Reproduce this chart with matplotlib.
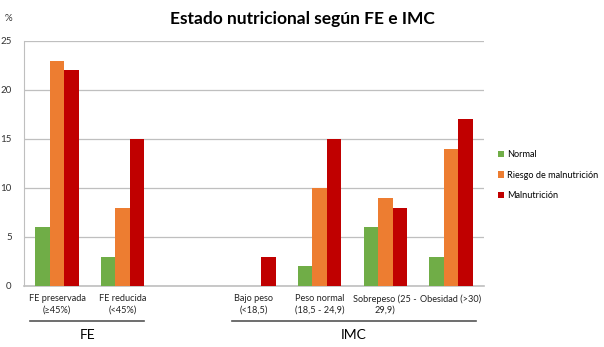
import numpy as np
import matplotlib.pyplot as plt

plt.rcParams['font.family'] = ['Lato', 'DejaVu Sans']

categorias = ['FE preservada\n(≥45%)', 'FE reducida\n(<45%)', '',
              'Bajo peso\n(<18,5)', 'Peso normal\n(18,5 - 24,9)',
              'Sobrepeso (25 -\n29,9)', 'Obesidad (>30)']
normal = [6, 3, 0, 0, 2, 6, 3]
riesgo = [23, 8, 0, 0, 10, 9, 14]
malnutricion = [22, 15, 0, 3, 15, 8, 17]
series = ['Normal', 'Riesgo de malnutrición', 'Malnutrición']
colores = ['#70AD47', '#ED7D31', '#C00000']

fig = plt.figure(figsize=(6.04, 3.47), dpi=100)
ax = fig.add_axes([0.04, 0.176, 0.761, 0.706])

x = np.arange(len(categorias))
w = 0.22
for i, (vals, name, c) in enumerate(zip([normal, riesgo, malnutricion], series, colores)):
    ax.bar(x + (i - 1) * w, vals, w, color=c, label=name, zorder=3)

ax.set_xlim(-0.5, len(categorias) - 0.5)
ax.set_ylim(0, 25)
ax.set_yticks(range(0, 26, 5))
ax.tick_params(axis='y', labelsize=7, length=0, pad=9, colors='#333333')
ax.set_xticks(x)
ax.set_xticklabels(categorias, fontsize=6.6, color='#222222', linespacing=1.3)
ax.tick_params(axis='x', length=0, pad=6)
ax.grid(axis='y', color='#BFBFBF', linewidth=0.9, zorder=0)
for s in ['top', 'right']:
    ax.spines[s].set_visible(False)
ax.spines['left'].set_color('#BFBFBF')
ax.spines['bottom'].set_color('#BFBFBF')
ax.spines['bottom'].set_linewidth(1.2)

ax.text(-0.035, 1.09, '%', transform=ax.transAxes, fontsize=7, ha='center', va='center', color='#333333')

fig.text(0.5, 0.945, 'Estado nutricional según FE e IMC', ha='center', va='center',
         fontsize=12.5, fontweight='bold')

# group brackets under the category labels
for x0, x1, lab in [(-0.41, 1.33, 'FE'), (2.67, 6.38, 'IMC')]:
    ax.plot([x0, x1], [-0.143, -0.143], transform=ax.get_xaxis_transform(),
            color='#555555', lw=1.2, clip_on=False)
    ax.text((x0 + x1) / 2, -0.2, lab, transform=ax.get_xaxis_transform(),
            ha='center', va='center', fontsize=10)

fig.legend(loc='center left', bbox_to_anchor=(0.818, 0.495), frameon=False,
           fontsize=6.6, handlelength=0.7, handleheight=0.7, handletextpad=0.3,
           labelspacing=1.25, borderaxespad=0)

fig.savefig('out.png', dpi=100)
